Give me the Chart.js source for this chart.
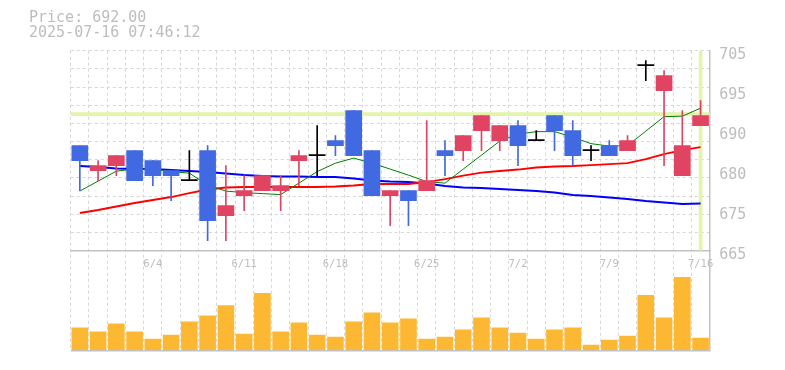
<!DOCTYPE html>
<html>
<head>
<meta charset="utf-8">
<script src="https://cdn.jsdelivr.net/npm/chart.js@4.4.1/dist/chart.umd.min.js"></script>
<style>
html,body{margin:0;padding:0;background:#ffffff;}
canvas{display:block;}
</style>
</head>
<body>
<canvas id="c" width="785" height="370"></canvas>
<script>
// ---------------- data ----------------
const dates = ['5/29','5/30','6/2','6/3','6/4','6/5','6/6','6/9','6/10','6/11','6/12','6/13','6/16','6/17','6/18','6/19','6/20','6/23','6/24','6/25','6/26','6/27','6/30','7/1','7/2','7/3','7/4','7/7','7/8','7/9','7/10','7/11','7/14','7/15','7/16'];
const opens  = [686,681,682,685,683,681,679,685,672,676,677,677,683,684,687,693,685,676,677,677,685,685,689,687,690,687,692,689,685,686,685,702,697,680,690];
const highs  = [686,683,684,685,683,681,685,686,682,680,680,680,685,690,688,693,685,677,677,691,687,688,692,690,691,689,692,691,686,687,688,703,701,693,695];
const lows   = [677,679,680,679,678,675,679,667,667,673,677,673,678,680,684,684,676,670,670,677,680,683,685,685,682,687,685,682,683,684,685,699,682,680,690];
const closes = [683,682,684,679,680,680,679,671,674,677,680,678,684,684,686,684,676,677,675,679,684,688,692,690,686,687,689,684,685,684,687,702,700,686,692];
const volumes = [22800,18600,26700,18600,11500,15500,28700,34800,44900,16500,57100,18600,27700,15500,13500,28700,37800,27700,31700,11500,13500,20600,32800,22600,17500,11500,20600,22600,5400,10400,14500,55100,32800,73300,12500];
const ma5  = [676.9,678.9,680.9,681.3,681.3,680.8,680.5,678.1,676.9,676.6,676.4,676.2,678.5,680.8,682.5,683.5,682.5,681.3,680.1,678.8,678.5,681.3,684.1,686.9,688.3,688.8,688.8,687.7,686.4,685.9,686.0,688.9,691.8,691.9,693.5];
const ma25 = [672.5,673.1,673.8,674.5,675.1,675.7,676.5,677.2,677.6,677.7,677.7,677.7,677.7,677.7,677.8,678.0,678.3,678.3,678.3,678.7,679.3,680.0,680.6,680.9,681.2,681.6,681.8,681.9,682.1,682.3,682.5,683.3,684.3,685.1,685.7];
const ma75 = [681.9,681.7,681.4,681.3,681.3,681.1,680.9,680.7,680.4,680.1,679.9,679.8,679.8,679.7,679.7,679.4,679.0,678.8,678.7,678.4,677.9,677.6,677.5,677.3,677.1,676.9,676.6,676.1,675.9,675.6,675.3,674.9,674.6,674.3,674.4];
const currentPrice = 692;
const priceMin = 665, priceMax = 705;
const priceTickValues = [665,673,681,689,697,705];
const priceTickLabels = ['665','675','680','690','695','705'];
const dateTickLabels = ['6/4','6/11','6/18','6/25','7/2','7/9','7/16'];
const titleLines = ['Price: 692.00','2025-07-16 07:46:12'];

// ---------------- styles ----------------
const UP = '#e04462', DOWN = '#4169e1', FLAT = '#000000';
const VOL = '#fdb833';
const LIME = '#e2f5aa';
const GRID = '#d6d6d6';
const AXIS = '#c2c2c2';
const TEXT = '#bdbdbd';
const MONO = "'DejaVu Sans Mono', 'Liberation Mono', monospace";

const candleColors = opens.map((o,i) => closes[i] > o ? UP : (closes[i] < o ? DOWN : FLAT));
const wickData = lows.map((l,i) => [l, highs[i]]);
const bodyData = opens.map((o,i) => [o, closes[i]]);
const lastIdx = dates.length - 1;
// current-price marker: a horizontal band across every category and a vertical band at the last one
const priceLineData = dates.map(() => [currentPrice, currentPrice]);
const nowLineData = dates.map((d,i) => i === lastIdx ? [priceMin, priceMax] : null);

const gridCount = 11;
const gridValues = [];
for (let k = 0; k <= gridCount; k++) gridValues.push(priceMin + k * (priceMax - priceMin) / gridCount);
const near = (a,b) => Math.abs(a-b) < 1e-6;

new Chart(document.getElementById('c'), {
  type: 'bar',
  data: {
    labels: dates,
    datasets: [
      { type:'bar', label:'price', xAxisID:'x', yAxisID:'yPrice', data:priceLineData,
        backgroundColor:LIME, barThickness:19, minBarLength:3, grouped:false, borderWidth:0, order:10 },
      { type:'bar', label:'now', xAxisID:'x', yAxisID:'yPrice', data:nowLineData,
        backgroundColor:LIME, barThickness:3, grouped:false, borderWidth:0, order:10 },
      { type:'line', label:'MA75', xAxisID:'x', yAxisID:'yPrice', data:ma75,
        borderColor:'#0000ff', borderWidth:2, pointRadius:0, tension:0, order:6 },
      { type:'line', label:'MA25', xAxisID:'x', yAxisID:'yPrice', data:ma25,
        borderColor:'#ff0000', borderWidth:2, pointRadius:0, tension:0, order:5 },
      { type:'line', label:'MA5', xAxisID:'x', yAxisID:'yPrice', data:ma5,
        borderColor:'#008000', borderWidth:1, pointRadius:0, tension:0, order:4 },
      { type:'bar', label:'wick', xAxisID:'x', yAxisID:'yPrice', data:wickData,
        backgroundColor:candleColors, barThickness:1, grouped:false, borderWidth:0, order:2 },
      { type:'bar', label:'body', xAxisID:'x', yAxisID:'yPrice', data:bodyData,
        backgroundColor:candleColors, barThickness:16, minBarLength:1, grouped:false, borderWidth:0, order:1 },
      { type:'bar', label:'volume', xAxisID:'x', yAxisID:'yVol', data:volumes,
        backgroundColor:VOL, barThickness:16, grouped:false, borderWidth:0, order:1 }
    ]
  },
  options: {
    responsive:false, animation:false, events:[],
    layout:{ padding:{ left:29, right:0, top:0, bottom:19.5 } },
    plugins:{
      legend:{display:false}, tooltip:{enabled:false},
      title:{ display:true, text:titleLines, align:'start', color:TEXT,
        font:{family:MONO, size:15, weight:'normal', lineHeight:1},
        padding:{top:10.8, bottom:9.9} }
    },
    scales:{
      x:{ type:'category', offset:true, position:{yPrice:priceMin},
        grid:{ offset:true, color:GRID, lineWidth:1, drawTicks:false },
        border:{ display:true, color:AXIS, width:1.5, dash:[3,3] },
        ticks:{ autoSkip:false, maxRotation:0, padding:7, color:TEXT,
          font:{family:MONO, size:10.5},
          callback(v){ const l = this.getLabelForValue(v); return dateTickLabels.includes(l) ? l : ''; } } },
      yPrice:{ type:'linear', position:'right', stack:'r', stackWeight:2,
        min:priceMin, max:priceMax,
        afterBuildTicks(s){
          const vals = gridValues.slice();
          priceTickValues.forEach(v => { if (!vals.some(g => near(g,v))) vals.push(v); });
          vals.sort((a,b)=>a-b);
          s.ticks = vals.map(v => ({value:v}));
        },
        afterFit(s){ s.width = 75.3; },
        grid:{ drawTicks:false, lineWidth:1,
          color(ctx){ const v = ctx.tick ? ctx.tick.value : null; return (v!==null && gridValues.some(g=>near(g,v))) ? GRID : 'rgba(0,0,0,0)'; } },
        border:{ display:true, color:AXIS, width:1.5, dash:[3,3] },
        ticks:{ autoSkip:false, padding:9.6, labelOffset:4.5, color:TEXT,
          font:{family:MONO, size:15},
          callback(v){ const i = priceTickValues.findIndex(p => near(p,v)); return i >= 0 ? priceTickLabels[i] : ''; } } },
      yVol:{ type:'linear', position:'right', stack:'r', stackWeight:1,
        min:0, max:100000,
        afterBuildTicks(s){ s.ticks = [{value:0}]; },
        grid:{ drawTicks:false, lineWidth:1.5, color:AXIS },
        border:{ display:true, color:AXIS, width:1.5 },
        ticks:{ display:false } },
      yL:{ type:'linear', position:'left', display:true,
        grid:{ display:false, drawTicks:false }, border:{ display:false },
        ticks:{ display:false },
        afterFit(s){ s.width = 41.7; } }
    }
  }
});
</script>
</body>
</html>
